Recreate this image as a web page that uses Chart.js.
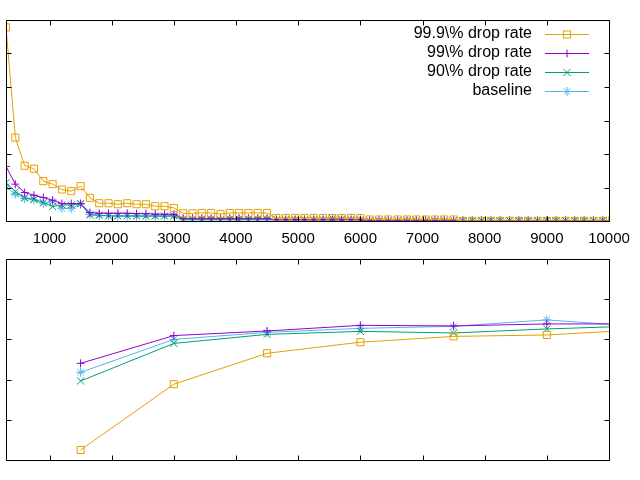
<!DOCTYPE html>
<html>
<head>
<meta charset="utf-8">
<script src="https://cdn.jsdelivr.net/npm/chart.js@4.4.1/dist/chart.umd.min.js"></script>
<style>
  html, body { margin: 0; padding: 0; background: #fff; }
  #wrap { position: relative; width: 640px; height: 480px; overflow: hidden; }
  canvas { position: absolute; left: 0; }
  #topChart { top: 0; z-index: 2; }
  #bottomChart { top: 250px; z-index: 1; }
</style>
</head>
<body>
<div id="wrap">
  <canvas id="topChart" width="640" height="260"></canvas>
  <canvas id="bottomChart" width="640" height="230"></canvas>
</div>
<script>
// --- data ---
const seriesLabels = ["99.9\\% drop rate", "99\\% drop rate", "90\\% drop rate", "baseline"];
const xTicks = [1000, 2000, 3000, 4000, 5000, 6000, 7000, 8000, 9000, 10000];
const topYTicks = [0, 10, 20, 30, 40, 50, 60];
const bottomYTicks = [0, 20, 40, 60, 80, 100];

const topX = [300, 450, 600, 750, 900, 1050, 1200, 1350, 1500, 1650, 1800, 1950,
  2100, 2250, 2400, 2550, 2700, 2850, 3000, 3150, 3300, 3450, 3600, 3750, 3900,
  4050, 4200, 4350, 4500, 4650, 4800, 4950, 5100, 5250, 5400, 5550, 5700, 5850,
  6000, 6150, 6300, 6450, 6600, 6750, 6900, 7050, 7200, 7350, 7500, 7650, 7800,
  7950, 8100, 8250, 8400, 8550, 8700, 8850, 9000, 9150, 9300, 9450, 9600, 9750,
  9900, 10050];

const top999 = [57.8, 24.9, 16.5, 15.6, 11.9, 11.0, 9.4, 8.9, 10.4, 6.9, 5.3, 5.3,
  5.0, 5.3, 5.0, 5.0, 4.4, 4.4, 3.9, 2.3, 2.3, 2.4, 2.4, 2.1, 2.4,
  2.4, 2.4, 2.4, 2.4, 0.9, 0.9, 0.9, 0.9, 0.9, 0.9, 0.9, 0.9, 0.9,
  0.9, 0.45, 0.45, 0.45, 0.45, 0.45, 0.45, 0.45, 0.45, 0.45, 0.45, 0.05, 0.05,
  0.05, 0.05, 0.05, 0.05, 0.05, 0.05, 0.05, 0.05, 0.05, 0.05, 0.05, 0.05, 0.05,
  0.05, 0.05];
const top99 = [16.3, 11.0, 8.5, 7.7, 7.0, 6.2, 5.2, 5.2, 5.2, 2.5, 2.3, 2.3,
  2.3, 2.3, 2.2, 2.2, 2.0, 2.0, 2.0, 0.8, 0.8, 0.8, 0.8, 0.8, 0.8,
  0.8, 0.8, 0.8, 0.8, 0.35, 0.35, 0.35, 0.35, 0.35, 0.35, 0.35, 0.35, 0.35,
  0.35, 0.1, 0.1, 0.1, 0.1, 0.1, 0.1, 0.1, 0.1, 0.1, 0.1, 0.1, 0.1,
  0.1, 0.1, 0.1, 0.1, 0.1, 0.1, 0.1, 0.1, 0.1, 0.1, 0.1, 0.1, 0.1,
  0.1, 0.1];
const top90 = [11.4, 8.8, 7.0, 6.5, 5.5, 4.3, 4.8, 4.8, 5.2, 1.8, 1.8, 1.5,
  1.5, 1.5, 1.5, 1.5, 1.5, 1.5, 1.5, 0.4, 0.4, 0.4, 0.4, 0.4, 0.4,
  0.4, 0.4, 0.4, 0.4, 0.4, 0.4, 0.4, 0.4, 0.4, 0.4, 0.8, 0.6, 0.4,
  0.4, 0.1, 0.1, 0.1, 0.1, 0.1, 0.1, 0.1, 0.1, 0.1, 0.1, 0.1, 0.1,
  0.1, 0.1, 0.1, 0.1, 0.1, 0.1, 0.1, 0.1, 0.1, 0.1, 0.1, 0.1, 0.1,
  0.1, 0.1];
const topBase = [10.2, 8.0, 6.7, 6.3, 5.3, 5.8, 3.8, 3.8, 5.0, 2.0, 1.6, 1.6,
  1.5, 1.5, 1.5, 1.4, 1.5, 1.4, 1.6, 0.4, 0.4, 0.4, 0.4, 0.4, 0.4,
  0.4, 0.4, 0.4, 0.4, 0.4, 0.4, 0.4, 0.4, 0.4, 0.4, 0.4, 0.4, 0.4,
  0.4, 0.1, 0.1, 0.1, 0.1, 0.1, 0.1, 0.1, 0.1, 0.1, 0.1, 0.1, 0.1,
  0.1, 0.1, 0.1, 0.1, 0.1, 0.1, 0.1, 0.1, 0.1, 0.1, 0.1, 0.1, 0.1,
  0.1, 0.1];

const bottomX = [1500, 3000, 4500, 6000, 7500, 9000, 10500];
const bottom999 = [5.0, 37.7, 53.1, 58.6, 61.5, 62.2, 64.8];
const bottom99 = [48.1, 61.9, 64.2, 67.0, 66.7, 67.7, 67.7];
const bottom90 = [39.3, 58.0, 62.5, 64.0, 63.2, 65.2, 66.7];
const bottomBase = [43.6, 60.0, 63.5, 65.5, 66.5, 69.7, 66.4];

const colors = ["#e69f00", "#9400d3", "#009e73", "#56b4e9"];
const markers = ["rect", "cross", "crossRot", "star"];
const markerSizes = [5, 4, 5, 4.5];

Chart.defaults.font.family = '"Liberation Sans", Arial, sans-serif';
Chart.defaults.color = "#000";

function makeDatasets(xs, seriesList) {
  return seriesList.map((vals, i) => ({
    label: seriesLabels[i],
    data: xs.map((x, j) => ({ x: x, y: vals[j] })),
    borderColor: colors[i],
    borderWidth: 1,
    pointStyle: markers[i],
    pointRadius: markerSizes[i],
    pointBorderColor: colors[i],
    pointBackgroundColor: "rgba(0,0,0,0)",
    pointBorderWidth: 1,
    tension: 0,
    fill: false,
  }));
}

// border box with inward ticks on all four sides, placed through the scales
function frameTicks(yTicks) {
  return {
    id: "frameTicks",
    afterDatasetsDraw(chart) {
      const { ctx, chartArea: a, scales } = chart;
      const L = Math.round(a.left) + 0.5;
      const R = Math.round(a.right) + 0.5;
      const T = Math.round(a.top) + 0.5;
      const B = Math.round(a.bottom) + 0.5;
      const len = 5;
      ctx.save();
      ctx.strokeStyle = "#000";
      ctx.lineWidth = 1;
      ctx.beginPath();
      ctx.rect(L, T, R - L, B - T);
      xTicks.forEach((v) => {
        const px = Math.round(scales.x.getPixelForValue(v)) + 0.5;
        ctx.moveTo(px, B);
        ctx.lineTo(px, B - len);
        ctx.moveTo(px, T);
        ctx.lineTo(px, T + len);
      });
      yTicks.forEach((v) => {
        const py = Math.round(scales.y.getPixelForValue(v)) + 0.5;
        ctx.moveTo(L, py);
        ctx.lineTo(L + len, py);
        ctx.moveTo(R, py);
        ctx.lineTo(R - len, py);
      });
      ctx.stroke();
      ctx.restore();
    },
  };
}

// gnuplot style key: text right aligned, sample line with marker to its right
const keyBox = {
  id: "keyBox",
  afterDraw(chart) {
    const { ctx, chartArea: a } = chart;
    ctx.save();
    ctx.font = '16px "Liberation Sans", Arial, sans-serif';
    ctx.textAlign = "right";
    ctx.textBaseline = "middle";
    chart.data.datasets.forEach((ds, i) => {
      const y = a.top + 14 + i * 19;
      ctx.fillStyle = "#000";
      ctx.fillText(ds.label, a.right - 77, y);
      ctx.strokeStyle = ds.borderColor;
      ctx.lineWidth = 1;
      ctx.beginPath();
      ctx.moveTo(a.right - 64, y + 0.5);
      ctx.lineTo(a.right - 20, y + 0.5);
      ctx.stroke();
      if (Chart.helpers && Chart.helpers.drawPoint) {
        ctx.fillStyle = "rgba(0,0,0,0)";
        Chart.helpers.drawPoint(ctx, { pointStyle: ds.pointStyle, radius: ds.pointRadius, borderWidth: 1, rotation: 0 }, a.right - 42, y + 0.5);
      }
    });
    ctx.restore();
  },
};

const topChart = new Chart(document.getElementById("topChart"), {
  type: "line",
  data: { datasets: makeDatasets(topX, [top999, top99, top90, topBase]) },
  options: {
    responsive: false,
    animation: false,
    layout: { padding: { left: 0, right: 31, top: 20, bottom: 3 } },
    plugins: { legend: { display: false }, tooltip: { enabled: false } },
    scales: {
      x: {
        type: "linear",
        min: 300,
        max: 10000,
        grid: { display: false, drawTicks: false },
        border: { display: false },
        afterBuildTicks: (scale) => {
          scale.ticks = xTicks.map((v) => ({ value: v }));
        },
        ticks: {
          autoSkip: false,
          maxRotation: 0,
          padding: 9,
          font: { size: 15 },
          color: "#000",
          callback: (v) => String(v),
        },
      },
      y: { display: false, min: 0, max: 60 },
    },
  },
  plugins: [frameTicks(topYTicks), keyBox],
});

const bottomChart = new Chart(document.getElementById("bottomChart"), {
  type: "line",
  data: { datasets: makeDatasets(bottomX, [bottom999, bottom99, bottom90, bottomBase]) },
  options: {
    responsive: false,
    animation: false,
    layout: { padding: { left: 0, right: 31, top: 9, bottom: 20 } },
    plugins: { legend: { display: false }, tooltip: { enabled: false } },
    scales: {
      x: { type: "linear", display: false, min: 300, max: 10000 },
      y: { display: false, min: 0, max: 100 },
    },
  },
  plugins: [frameTicks(bottomYTicks)],
});
</script>
</body>
</html>
